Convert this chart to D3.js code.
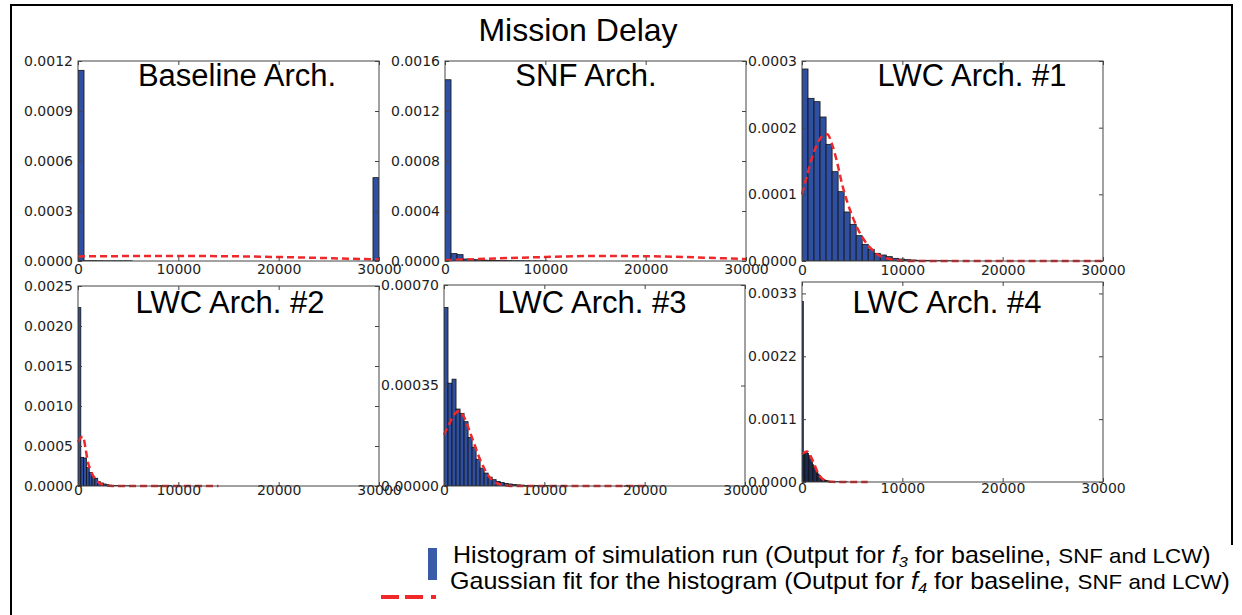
<!DOCTYPE html>
<html>
<head>
<meta charset="utf-8">
<script src="https://cdn.jsdelivr.net/npm/d3@7"></script>
<style>
  body { margin: 0; background: #fff; }
  svg { display: block; }
</style>
</head>
<body>
<div id="chart"></div>
<script>
"use strict";

// ---- data ----
var panelNames = ["Baseline Arch.", "SNF Arch.", "LWC Arch. #1", "LWC Arch. #2", "LWC Arch. #3", "LWC Arch. #4"];
var xTicks = [0, 10000, 20000, 30000];
var binWidths = [600, 600, 600, 280, 400, 131];
var yMaxes = [0.0012, 0.0016, 0.0003, 0.0025, 0.0007, 0.0035];
var yTicks = [
  [0, 0.0003, 0.0006, 0.0009, 0.0012],
  [0, 0.0004, 0.0008, 0.0012, 0.0016],
  [0, 0.0001, 0.0002, 0.0003],
  [0, 0.0005, 0.0010, 0.0015, 0.0020, 0.0025],
  [0, 0.00035, 0.00070],
  [0, 0.0011, 0.0022, 0.0033]
];
var yDecimals = [4, 4, 4, 4, 5, 4];

// histogram densities, one value per bin starting at 0
var baselineHist = [0.001144, 0.000002, 0.000002, 0.0000015, 0.000001, 0.000001, 0.000001, 0.000001, 0.000001,
  0, 0, 0, 0, 0, 0, 0, 0, 0, 0, 0, 0, 0, 0, 0, 0, 0, 0, 0, 0, 0,
  0, 0, 0, 0, 0, 0, 0, 0, 0, 0, 0, 0, 0, 0, 0, 0, 0, 0, 0, 0.0005];
var snfHist = [0.00145, 0.000059, 0.000051, 0.000016, 0.000013, 0.00001, 0.000007, 0.000005, 0.000004,
  0.000003, 0.000003, 0.000002, 0.000002, 0.0000015, 0.000001, 0.000001, 0.000001];
var lwc1Hist = [0.000288, 0.000244, 0.000239, 0.000216, 0.000175, 0.000134, 0.000104, 0.0000735, 0.000055,
  0.000038, 0.000025, 0.0000175, 0.0000115, 0.000009, 0.0000065, 0.000004, 0.000003, 0.000002, 0.0000015,
  0.000001, 0.000001, 0.0000008, 0.0000005, 0.0000005, 0.0000003];
var lwc2Hist = [0.00223, 0.000358, 0.00035, 0.000229, 0.00017, 0.000117, 0.000096, 0.000054, 0.000038,
  0.000025, 0.000017, 0.00001, 0.000007, 0.000005, 0.000004, 0.000003, 0.000002, 0.000002, 0.000001, 0.000001];
var lwc3Hist = [0.000622, 0.000358, 0.000372, 0.000268, 0.000253, 0.000224, 0.000169, 0.000135, 0.000093,
  0.000062, 0.000045, 0.000031, 0.000022, 0.000016, 0.000012, 0.000009, 0.000007, 0.000005, 0.000004,
  0.000003, 0.000002, 0.000002, 0.0000015, 0.000001, 0.000001, 0.000001, 0.0000008, 0.0000005];
var lwc4Hist = [0.00316, 0.00048, 0.00052, 0.00053, 0.0005, 0.00046, 0.0004, 0.00035, 0.0003, 0.00025,
  0.0002, 0.00018, 0.00014, 0.00011, 0.00008, 0.00006, 0.000045, 0.000035, 0.000027, 0.00002,
  0.000015, 0.000012, 0.00001, 0.000008, 0.000006, 0.000005, 0.000004, 0.000003, 0.000003, 0.000002,
  0.000002, 0.000002, 0.0000015, 0.000001, 0.000001];

// gaussian fit curves
var baselineFitX = [0, 5000, 10000, 15000, 20000, 25000, 30000];
var baselineFitY = [0.0000275, 0.0000295, 0.00003, 0.0000285, 0.000024, 0.000017, 0.0000096];
var snfFitX = [0, 5000, 10000, 15000, 20000, 25000, 30000];
var snfFitY = [0.000006, 0.00002, 0.000032, 0.00004, 0.000038, 0.000029, 0.000015];
var lwc1FitX = [0, 500, 1000, 1500, 2000, 2500, 3000, 3500, 4000, 4500, 5000, 5500, 6000, 6500, 7000, 7500, 8000, 9000, 10000, 11000, 30000];
var lwc1FitY = [0.0001, 0.000128, 0.000155, 0.000175, 0.000187, 0.00019, 0.000175, 0.000148, 0.000115, 0.000089,
  0.000068, 0.00005, 0.000036, 0.000025, 0.000017, 0.00001, 0.000006, 0.000002, 0.0000005, 0, 0];
var lwc2FitX = [0, 250, 500, 750, 1000, 1250, 1500, 1750, 2000, 2500, 3000, 3500, 14000];
var lwc2FitY = [0.00055, 0.0006, 0.000616, 0.00047, 0.00029, 0.0002, 0.00013, 0.00008, 0.00005, 0.000012, 0.000002, 0, 0];
var lwc3FitX = [0, 500, 1000, 1500, 2000, 2500, 3000, 3500, 4000, 4500, 5000, 5500, 6000, 7000, 20000];
var lwc3FitY = [0.000178, 0.000215, 0.000248, 0.000261, 0.00024, 0.000196, 0.000148, 0.0001, 0.000062, 0.000032,
  0.000015, 0.000006, 0.000002, 0, 0];
var lwc4FitX = [0, 250, 500, 750, 1000, 1250, 1500, 1750, 2000, 2250, 2500, 3000, 3500, 6550];
var lwc4FitY = [0.00049, 0.00052, 0.000535, 0.00049, 0.0004, 0.0003, 0.00019, 0.00011, 0.00006, 0.00003, 0.000015, 0.000003, 0, 0];

var hists = [baselineHist, snfHist, lwc1Hist, lwc2Hist, lwc3Hist, lwc4Hist];
var fitXs = [baselineFitX, snfFitX, lwc1FitX, lwc2FitX, lwc3FitX, lwc4FitX];
var fitYs = [baselineFitY, snfFitY, lwc1FitY, lwc2FitY, lwc3FitY, lwc4FitY];

// ---- layout ----
var width = 1242, height = 615;
var boxes = [
  { x: 78, y: 61, w: 301, h: 200, tx: 237, ty: 86, lab: 3 },
  { x: 445, y: 61, w: 301, h: 200, tx: 586, ty: 86, lab: 3 },
  { x: 802, y: 61, w: 301, h: 200, tx: 972, ty: 86, lab: 4 },
  { x: 78, y: 286, w: 301, h: 200, tx: 230, ty: 313, lab: -1 },
  { x: 444, y: 285, w: 301, h: 201, tx: 592, ty: 313, lab: -1 },
  { x: 802, y: 282, w: 301, h: 200, tx: 947, ty: 313, lab: 1 }
];
var barFill = "#2f50a2";
var fitColor = "#f0282a";

var svg = d3.select("#chart").append("svg")
  .attr("width", width).attr("height", height)
  .attr("viewBox", "0 0 " + width + " " + height);

// outer frame
svg.append("path")
  .attr("d", "M11,615 V5 H1232 V545")
  .attr("fill", "none").attr("stroke", "#000").attr("stroke-width", 2);

svg.append("text")
  .attr("x", 578).attr("y", 41)
  .attr("text-anchor", "middle")
  .style("font-family", "'Liberation Sans', Arial, sans-serif")
  .style("font-size", "32px")
  .text("Mission Delay");

boxes.forEach(function (b, i) {
  var xs = d3.scaleLinear().domain([0, 30000]).range([b.x, b.x + b.w]);
  var ys = d3.scaleLinear().domain([0, yMaxes[i]]).range([b.y + b.h, b.y]);
  var g = svg.append("g").attr("class", "panel");

  var clipId = "clip" + i;
  g.append("clipPath").attr("id", clipId).append("rect")
    .attr("x", b.x).attr("y", b.y).attr("width", b.w).attr("height", b.h);

  var bins = hists[i].map(function (v, k) {
    return { x0: k * binWidths[i], x1: (k + 1) * binWidths[i], v: v };
  }).filter(function (d) { return d.v > 0; });

  g.append("g").attr("clip-path", "url(#" + clipId + ")")
    .selectAll("rect").data(bins).enter().append("rect")
    .attr("x", function (d) { return xs(d.x0); })
    .attr("width", function (d) { return xs(d.x1) - xs(d.x0); })
    .attr("y", function (d) { return ys(d.v); })
    .attr("height", function (d) { return ys(0) - ys(d.v); })
    .attr("fill", barFill)
    .attr("stroke", "#111")
    .attr("stroke-width", 0.8);

  var pts = fitXs[i].map(function (x, k) { return [x, fitYs[i][k]]; });
  var line = d3.line()
    .x(function (d) { return xs(d[0]); })
    .y(function (d) { return ys(d[1]); })
    .curve(d3.curveMonotoneX);
  g.append("path").datum(pts)
    .attr("d", line)
    .attr("fill", "none")
    .attr("stroke", fitColor)
    .attr("stroke-width", 2.5)
    .attr("stroke-dasharray", "7,4");

  // axes, ticks pointing inwards on all sides
  var fmt = d3.format("." + yDecimals[i] + "f");
  var left = g.append("g").attr("transform", "translate(" + b.x + ",0)")
    .call(d3.axisLeft(ys).tickValues(yTicks[i]).tickFormat(fmt).tickSize(-4).tickPadding(5));
  g.append("g").attr("transform", "translate(" + (b.x + b.w) + ",0)")
    .call(d3.axisRight(ys).tickValues(yTicks[i]).tickFormat("").tickSize(-4));
  var bottom = g.append("g").attr("transform", "translate(0," + (b.y + b.h) + ")")
    .call(d3.axisBottom(xs).tickValues(xTicks).tickFormat(d3.format("d")).tickSize(-4).tickPadding(b.lab));
  g.append("g").attr("transform", "translate(0," + b.y + ")")
    .call(d3.axisTop(xs).tickValues(xTicks).tickFormat("").tickSize(-4));

  g.selectAll(".domain").remove();
  g.selectAll(".tick line").attr("stroke", "#444");
  [left, bottom].forEach(function (a) {
    a.selectAll("text")
      .attr("fill", "#1e1e1e")
      .style("font-family", "'DejaVu Sans', sans-serif")
      .style("font-size", "14px");
  });

  g.append("rect")
    .attr("x", b.x).attr("y", b.y).attr("width", b.w).attr("height", b.h)
    .attr("fill", "none").attr("stroke", "#444").attr("stroke-width", 1);

  g.append("text")
    .attr("x", b.tx).attr("y", b.ty)
    .attr("text-anchor", "middle")
    .style("font-family", "'Liberation Sans', Arial, sans-serif")
    .style("font-size", "31px")
    .text(panelNames[i]);
});

// legend
var leg = svg.append("g").style("font-family", "'Liberation Sans', Arial, sans-serif");
leg.append("rect").attr("x", 428).attr("y", 548).attr("width", 9).attr("height", 32).attr("fill", "#3a5ba8");
leg.append("line")
  .attr("x1", 381).attr("x2", 437).attr("y1", 597).attr("y2", 597)
  .attr("stroke", fitColor).attr("stroke-width", 4)
  .attr("stroke-dasharray", "18,6,18,8,5,40");

var legendLines = [
  { x: 453, y: 563, lead: "Histogram of simulation run (Output for ", sub: "3" },
  { x: 450, y: 589, lead: "Gaussian fit for the histogram (Output for ", sub: "4" }
];
legendLines.forEach(function (l) {
  // the source text is slightly stretched sideways
  var t = leg.append("g")
    .attr("transform", "translate(" + l.x + "," + l.y + ") scale(1.09,1)")
    .append("text").style("font-size", "23px");
  t.append("tspan").text(l.lead);
  t.append("tspan").style("font-style", "italic").text("f");
  t.append("tspan").attr("dy", 4).style("font-size", "15px").style("font-style", "italic").text(l.sub);
  t.append("tspan").attr("dy", -4).text(" for baseline, ");
  t.append("tspan").style("font-size", "20.5px").text("SNF and LCW");
  t.append("tspan").text(")");
});
</script>
</body>
</html>
